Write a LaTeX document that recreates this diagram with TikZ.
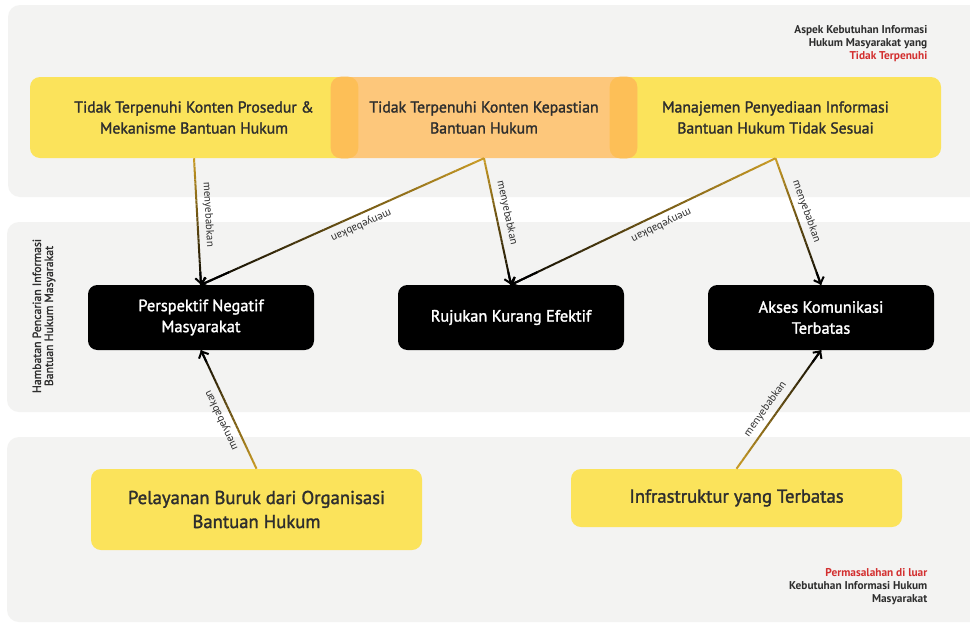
\documentclass[tikz,border=0pt]{standalone}
\usepackage{fontspec}
\setmainfont{PT Sans}
\newfontfamily\medfont{PT Sans}[FakeBold=1.6]
\newfontfamily\boldfont{PT Sans Bold}
\usetikzlibrary{calc,arrows.meta}
\definecolor{panelgray}{HTML}{F3F3F2}
\definecolor{boxyellow}{HTML}{FBE35B}
\definecolor{boxorange}{HTML}{FDC77B}
\definecolor{boxoverlap}{HTML}{FDBF57}
\definecolor{linkgold}{HTML}{C89A24}
\definecolor{textdark}{HTML}{2E2E2E}
\definecolor{labelred}{HTML}{D32F2F}
\tikzset{
  panel/.style={fill=panelgray, rounded corners=9pt},
  topbox/.style={rounded corners=7.5pt, minimum height=60.75pt, align=center, text=textdark,
    font=\medfont\fontsize{11.8}{15.75}\selectfont},
  blackbox/.style={fill=black, rounded corners=7pt, minimum width=169.5pt, minimum height=48.75pt,
    align=center, text=white, font=\medfont\fontsize{12.3}{15.75}\selectfont},
  bottombox/.style={fill=boxyellow, rounded corners=7.5pt, minimum width=248.25pt, align=center,
    text=textdark, font=\medfont\fontsize{14}{18}\selectfont},
  cornerlabel/.style={anchor=east, align=right, text=textdark, font=\boldfont\fontsize{8.5}{9.75}\selectfont},
  sidelabel/.style={rotate=90, align=center, text=textdark, font=\medfont\fontsize{8.8}{9}\selectfont},
  linkseg/.style={line width=1.5pt, line cap=butt},
  linkhead/.style={line width=1.5pt, black, -{Straight Barb[length=4pt,width=8pt]}},
  linklabel/.style={sloped, allow upside down, above=1pt, pos=0.45, text=textdark,
    font=\fontsize{8.2}{9}\selectfont}
}
\newcommand\gradlink[3]{%
  \foreach \k in {0,...,29}{%
    \pgfmathtruncatemacro\cc{100-\k*100/30}%
    \draw[linkseg, draw=linkgold!\cc!black] ($(#1)!\k/30!(#2)$) -- ($(#1)!{(\k+1)/30}!(#2)$);
  }
  \draw[linkhead] ($(#1)!0.9!(#2)$) -- (#2);
  \path (#1) -- (#2) node[linklabel] {#3};
}
\begin{document}
\begin{tikzpicture}[x=0.75pt,y=-0.75pt]
\useasboundingbox (0,0) rectangle (970,625);
\clip (0,0) rectangle (970,625);
\fill[white] (0,0) rectangle (970,625);
% panels
\fill[panel] (8,5) rectangle (990,197);
\fill[panel] (7,222) rectangle (990,412);
\fill[panel] (7,437) rectangle (990,622);
% top boxes
\node[topbox, fill=boxyellow, minimum width=246pt] (t1) at (194,117.5)
  {Tidak Terpenuhi Konten Prosedur \&\\Mekanisme Bantuan Hukum};
\node[topbox, fill=boxyellow, minimum width=248.25pt] (t3) at (775.5,117.5)
  {Manajemen Penyediaan Informasi\\Bantuan Hukum Tidak Sesuai};
\node[topbox, fill=boxorange, minimum width=229.5pt] (t2) at (484,117.5)
  {Tidak Terpenuhi Konten Kepastian\\Bantuan Hukum};
\begin{scope}
  \clip[rounded corners=7.5pt] (t1.south west) rectangle (t1.north east);
  \fill[boxoverlap, rounded corners=7.5pt] (t2.south west) rectangle (t2.north east);
\end{scope}
\begin{scope}
  \clip[rounded corners=7.5pt] (t3.south west) rectangle (t3.north east);
  \fill[boxoverlap, rounded corners=7.5pt] (t2.south west) rectangle (t2.north east);
\end{scope}
% black boxes
\node[blackbox] (persp) at (201,317.5) {Perspektif Negatif\\Masyarakat};
\node[blackbox] (rujuk) at (511,317.5) {Rujukan Kurang Efektif};
\node[blackbox] (akses) at (821,317.5) {Akses Komunikasi\\Terbatas};
% bottom boxes
\node[bottombox, minimum height=60.75pt] (layan) at (256.5,509.5) {Pelayanan Buruk dari Organisasi\\Bantuan Hukum};
\node[bottombox, minimum height=43.5pt] (infra) at (736.5,498) {Infrastruktur yang Terbatas};
% labels
\node[cornerlabel] (lbltop) at (932,43.5) {Aspek Kebutuhan Informasi\\Hukum Masyarakat yang\\\textcolor{labelred}{Tidak Terpenuhi}};
\node[cornerlabel] (lblbot) at (932,587) {\textcolor{labelred}{Permasalahan di luar}\\Kebutuhan Informasi Hukum\\Masyarakat};
\node[sidelabel] (lblside) at (44,316) {Hambatan Pencarian Informasi\\Bantuan Hukum Masyarakat};
% links
\gradlink{t1.south}{persp.north}{menyebabkan}
\gradlink{t2.south}{persp.north}{menyebabkan}
\gradlink{t2.south}{rujuk.north}{menyebabkan}
\gradlink{t3.south}{rujuk.north}{menyebabkan}
\gradlink{t3.south}{akses.north}{menyebabkan}
\gradlink{layan.north}{persp.south}{menyebabkan}
\gradlink{infra.north}{akses.south}{menyebabkan}
\end{tikzpicture}
\end{document}
